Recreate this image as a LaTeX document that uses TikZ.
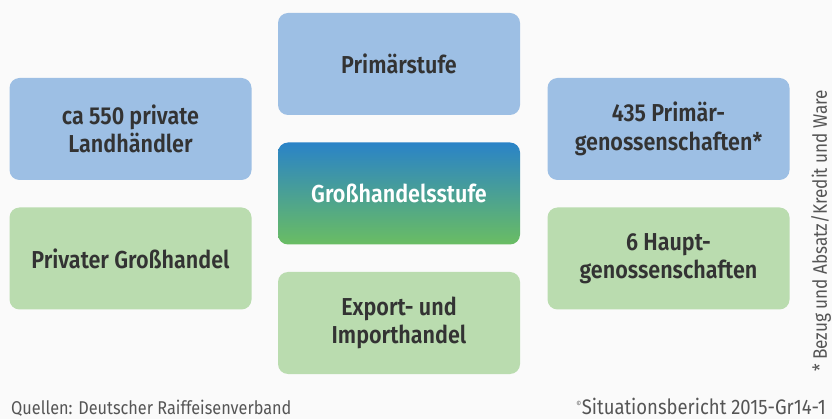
\documentclass[tikz,border=0pt]{standalone}
\usepackage{fontspec}
\setmainfont{Fira Sans}[FakeStretch=0.88, BoldFont={Fira Sans SemiBold}]
\usepackage{tikz}

\definecolor{stufeblau}{HTML}{9DBFE4}
\definecolor{stufegruen}{HTML}{BADCAF}
\definecolor{verlaufoben}{HTML}{2A83C8}
\definecolor{verlaufunten}{HTML}{6ABD62}
\definecolor{schrift}{HTML}{333333}
\definecolor{fuss}{HTML}{555555}

\tikzset{
	kasten/.style={rectangle, rounded corners=10pt, minimum width=242pt, minimum height=102pt,
		align=center, text=schrift, font=\fontsize{24.5}{28.5}\selectfont\bfseries, inner sep=0pt},
	blaukasten/.style={kasten, fill=stufeblau},
	gruenkasten/.style={kasten, fill=stufegruen},
	fusstext/.style={text=fuss, font=\fontsize{18.5}{21}\selectfont, inner sep=0pt}
}

\begin{document}
\begin{tikzpicture}[x=1pt, y=-1pt]
			%%%%% START %%%%%
			
			\fill[white!98!black] (0, 0) rectangle (832, 419);
			\useasboundingbox (0, 0) rectangle (832, 419);
			
			% mittlere Spalte
			\node[blaukasten] (primaer) at (399, 64) {Primärstufe};
			\node[kasten, top color=verlaufoben, bottom color=verlaufunten, text=white] (gross) at (399, 193.5) {Großhandelsstufe};
			\node[gruenkasten] (export) at (399, 323) {Export- und\\Importhandel};
			
			% linke Spalte
			\node[blaukasten] (landh) at (130.5, 129) {ca 550 private\\Landhändler};
			\node[gruenkasten] (privat) at (130.5, 258.5) {Privater Großhandel};
			
			% rechte Spalte
			\node[blaukasten] (primgen) at (668.5, 129) {435 Primär-\\genossenschaften*};
			\node[gruenkasten] (hauptgen) at (668.5, 258.5) {6 Haupt-\\genossenschaften};
			
			\node[fusstext, font=\fontsize{19.5}{21}\selectfont, rotate=90] (stern) at (821, 231) {* Bezug und Absatz/Kredit und Ware};
			
			\node[fusstext, anchor=base west] (quelle) at (11, 414) {Quellen: Deutscher Raiffeisenverband};
			\node[fusstext, font=\fontsize{21}{23}\selectfont, anchor=base east] (copy) at (826, 414) {\textsuperscript{\scriptsize ©}Situationsbericht 2015-Gr14-1};
			
			%%%%% END %%%%%
\end{tikzpicture}
\end{document}
